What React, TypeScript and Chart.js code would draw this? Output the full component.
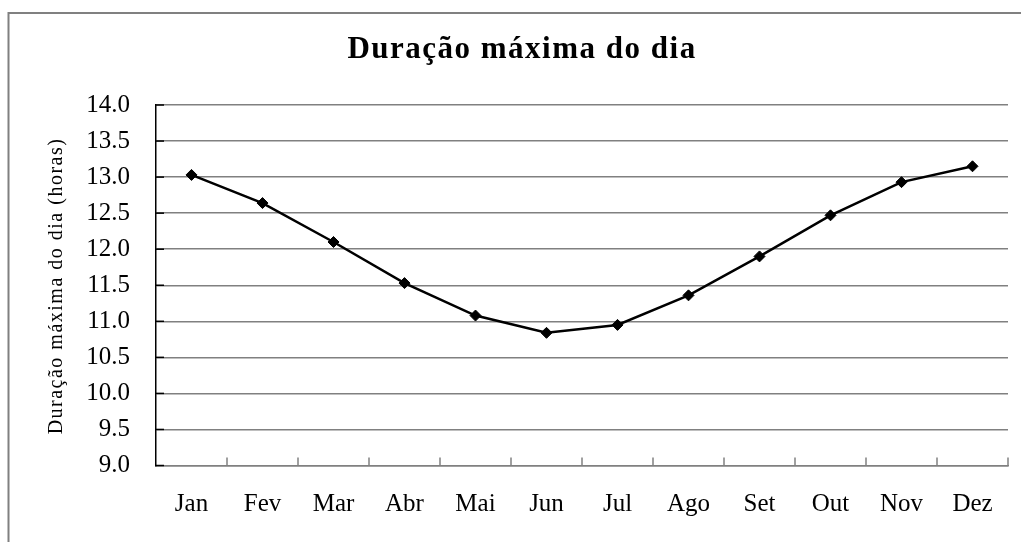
import React, { useEffect, useRef } from "react";
import { Chart, registerables } from "chart.js";

Chart.register(...registerables);

const months = ["Jan", "Fev", "Mar", "Abr", "Mai", "Jun", "Jul", "Ago", "Set", "Out", "Nov", "Dez"];
const hours = [13.03, 12.64, 12.1, 11.53, 11.08, 10.84, 10.95, 11.36, 11.9, 12.47, 12.93, 13.15];
const yMin = 9.0;
const yMax = 14.0;
const yStep = 0.5;
const chartTitle = "Duração máxima do dia";
const yAxisTitle = "Duração máxima do dia (horas)";

const SERIF = "'Liberation Serif', 'Times New Roman', serif";

const decorPlugin = {
  id: "decor",
  beforeDraw(chart: any) {
    const ctx = chart.ctx;
    ctx.save();
    ctx.fillStyle = "#ffffff";
    ctx.fillRect(0, 0, chart.width, chart.height);
    ctx.restore();
  },
  afterDraw(chart: any) {
    const ctx = chart.ctx;
    const xs = chart.scales.x;
    const ys = chart.scales.y;
    const area = chart.chartArea;
    ctx.save();
    // frame
    ctx.strokeStyle = "#808080";
    ctx.lineWidth = 2;
    ctx.strokeRect(8.5, 13, chart.width + 20, chart.height + 20);

    // y inside ticks
    ctx.strokeStyle = "#000000";
    ctx.lineWidth = 1.5;
    for (let v = yMin; v <= yMax + 1e-9; v += yStep) {
      const py = ys.getPixelForValue(v);
      ctx.beginPath();
      ctx.moveTo(area.left, py);
      ctx.lineTo(area.left + 8, py);
      ctx.stroke();
    }
    // x category boundary ticks
    ctx.strokeStyle = "#808080";
    ctx.lineWidth = 1.5;
    for (let i = 1; i <= months.length; i++) {
      const px = xs.getPixelForValue(i - 0.5);
      ctx.beginPath();
      ctx.moveTo(px, area.bottom);
      ctx.lineTo(px, area.bottom - 8);
      ctx.stroke();
    }

    // chart title
    ctx.fillStyle = "#000000";
    ctx.font = `bold 31px ${SERIF}`;
    (ctx as any).letterSpacing = "1.5px";
    ctx.textAlign = "center";
    ctx.textBaseline = "alphabetic";
    ctx.fillText(chartTitle, 522, 58);

    // y axis title
    ctx.font = `20px ${SERIF}`;
    (ctx as any).letterSpacing = "1.5px";
    ctx.translate(62, 286);
    ctx.rotate(-Math.PI / 2);
    ctx.fillText(yAxisTitle, 0, 0);
    (ctx as any).letterSpacing = "0px";
    ctx.restore();
  },
};

export default function App() {
  const ref = useRef<HTMLCanvasElement | null>(null);

  useEffect(() => {
    if (!ref.current) return;
    const chart = new Chart(ref.current, {
      type: "line",
      data: {
        labels: months,
        datasets: [
          {
            data: hours,
            borderColor: "#000000",
            backgroundColor: "#000000",
            borderWidth: 2.5,
            tension: 0,
            pointStyle: "rectRot",
            pointRadius: 5.5,
            pointBorderWidth: 1,
            pointBackgroundColor: "#000000",
            pointBorderColor: "#000000",
            fill: false,
          },
        ],
      },
      options: {
        animation: false,
        responsive: false,
        layout: { padding: { top: 105, right: 13, left: 0, bottom: 0 } },
        plugins: {
          legend: { display: false },
          title: { display: false },
          tooltip: { enabled: false },
        },
        scales: {
          x: {
            type: "category",
            offset: true,
            grid: { display: false, drawTicks: false },
            border: { display: true, color: "#808080", width: 1.5 },
            ticks: {
              padding: 24,
              color: "#000000",
              font: { family: SERIF, size: 25 },
              maxRotation: 0,
              autoSkip: false,
            },
            afterFit: (s: any) => {
              s.height = 76.5;
            },
          },
          y: {
            min: yMin,
            max: yMax,
            grid: { color: "#808080", lineWidth: 1.5, drawTicks: false },
            border: { display: true, color: "#000000", width: 1.5 },
            ticks: {
              stepSize: yStep,
              padding: 26,
              color: "#000000",
              font: { family: SERIF, size: 25 },
              callback: (v: any) => Number(v).toFixed(1),
            },
            afterFit: (s: any) => {
              s.width = 156;
            },
          },
        },
      },
      plugins: [decorPlugin],
    });
    return () => chart.destroy();
  }, []);

  return (
    <div style={{ position: "absolute", left: 0, top: 0, width: 1021, height: 542 }}>
      <canvas ref={ref} width={1021} height={542} style={{ display: "block" }} />
    </div>
  );
}
